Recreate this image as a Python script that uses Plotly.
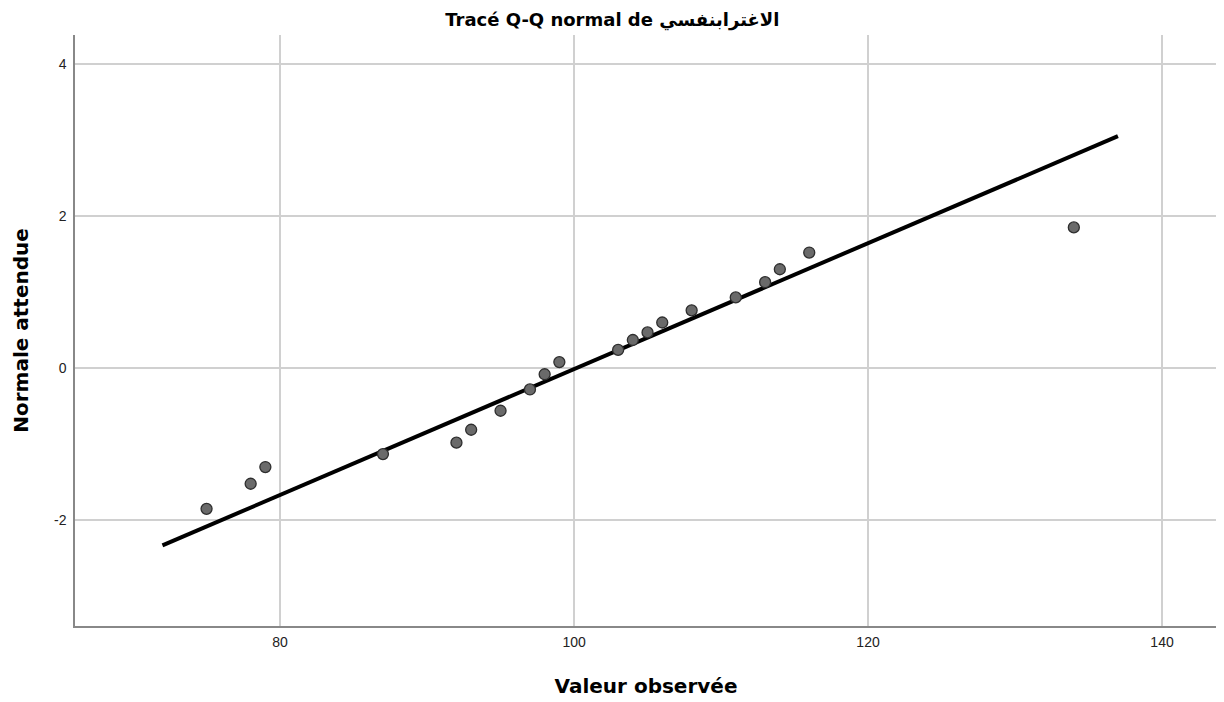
import plotly.graph_objects as go

observed = [75, 78, 79, 87, 92, 93, 95, 97, 98, 99, 103, 104, 105, 106, 108, 111, 113, 114, 116, 134]
expected = [-1.85, -1.52, -1.30, -1.13, -0.98, -0.81, -0.56, -0.28, -0.08, 0.08,
            0.24, 0.37, 0.47, 0.60, 0.76, 0.93, 1.13, 1.30, 1.52, 1.85]
line_x = [72.0, 137.0]
line_y = [-2.33, 3.05]

x_ticks = [80, 100, 120, 140]
x_labels = ["80", "100", "120", "140"]
y_ticks = [-2, 0, 2, 4]
y_labels = ["-2", "0", "2", "4"]

title_font = "DejaVu Sans, Liberation Sans, Arial, sans-serif"

fig = go.Figure()
fig.add_trace(go.Scatter(x=line_x, y=line_y, mode="lines",
                         line=dict(color="black", width=4), hoverinfo="skip", showlegend=False))
fig.add_trace(go.Scatter(x=observed, y=expected, mode="markers",
                         marker=dict(size=11, color="#6a6a6a", line=dict(color="#2e2e2e", width=1.3)),
                         showlegend=False))

# page body has an 8px margin: size the figure so it ends at the window edge
fig.update_layout(
    width=1216, height=694,
    margin=dict(l=67, r=7, t=27, b=76),
    plot_bgcolor="white", paper_bgcolor="white",
    font=dict(family="Liberation Sans, Arial, sans-serif", color="#222222"),
    title=dict(text="<b>Tracé Q-Q normal de الاغترابنفسي</b>", x=0.497, xref="container", xanchor="center",
               y=0.983, yanchor="middle", font=dict(size=18, color="black", family=title_font)),
    xaxis=dict(range=[66.05, 143.74], tickvals=x_ticks, ticktext=x_labels, showgrid=True,
               gridcolor="#d0d0d0", gridwidth=1.6, automargin=False,
               zeroline=False, showline=True, linecolor="#888888", linewidth=1.5,
               ticks="", tickfont=dict(size=14, color="#222222"), ticklabelstandoff=2,
               title=dict(text="<b>Valeur observée</b>", font=dict(size=20, color="black", family=title_font),
                          standoff=30)),
    yaxis=dict(range=[-3.39, 4.38], tickvals=y_ticks, ticktext=y_labels, showgrid=True,
               gridcolor="#d0d0d0", gridwidth=1.6, automargin=False,
               zeroline=False, showline=True, linecolor="#888888", linewidth=1.5,
               ticks="", tickfont=dict(size=14, color="#222222"), ticklabelstandoff=4,
               title=dict(text="<b>Normale attendue</b>", font=dict(size=20, color="black", family=title_font),
                          standoff=20)),
)

fig.write_html("out.html")
